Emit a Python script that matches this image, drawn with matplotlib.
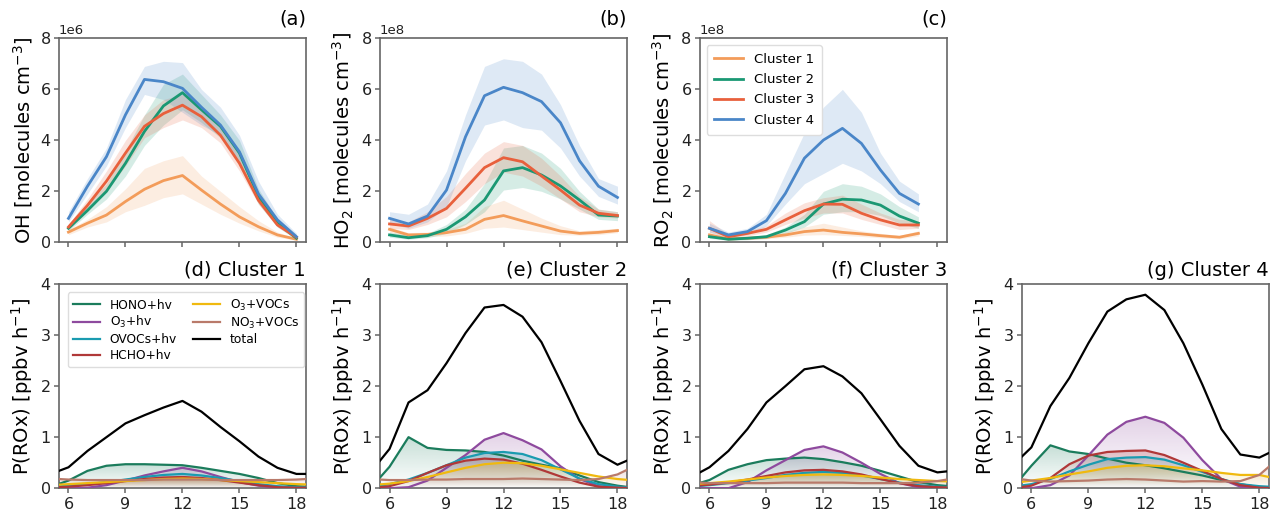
import numpy as np
import matplotlib
matplotlib.use("Agg")
import matplotlib.pyplot as plt
import matplotlib.colors as mcolors

# ---------------- data ----------------
hours_top = [6, 7, 8, 9, 10, 11, 12, 13, 14, 15, 16, 17, 18]
hours_ro2 = [6, 7, 8, 9, 10, 11, 12, 13, 14, 15, 16, 17]
hours_bot = [5, 6, 7, 8, 9, 10, 11, 12, 13, 14, 15, 16, 17, 18, 19]

cluster_names = ["Cluster 1", "Cluster 2", "Cluster 3", "Cluster 4"]

# OH (x1e6): mean, lower, upper
oh_c1 = [0.40, 0.75, 1.07, 1.60, 2.08, 2.42, 2.62, 2.05, 1.50, 1.00, 0.61, 0.29, 0.12]
oh_c1_lo = [0.30, 0.60, 0.80, 1.20, 1.45, 1.75, 1.90, 1.50, 1.10, 0.75, 0.45, 0.20, 0.08]
oh_c1_hi = [0.50, 0.90, 1.40, 2.10, 2.90, 3.20, 3.40, 2.60, 2.00, 1.40, 0.85, 0.40, 0.15]
oh_c2 = [0.55, 1.25, 2.00, 3.10, 4.35, 5.35, 5.87, 5.20, 4.55, 3.50, 1.80, 0.75, 0.16]
oh_c2_lo = [0.45, 1.10, 1.70, 2.60, 3.80, 4.60, 5.20, 4.70, 4.10, 3.10, 1.50, 0.60, 0.10]
oh_c2_hi = [0.70, 1.50, 2.30, 3.60, 5.00, 6.20, 6.60, 5.80, 5.00, 4.00, 2.10, 0.90, 0.25]
oh_c3 = [0.60, 1.45, 2.40, 3.50, 4.55, 5.05, 5.38, 4.93, 4.20, 3.10, 1.65, 0.68, 0.20]
oh_c3_lo = [0.50, 1.20, 2.00, 3.00, 4.10, 4.50, 4.80, 4.50, 3.90, 2.80, 1.50, 0.60, 0.15]
oh_c3_hi = [0.70, 1.70, 2.80, 4.00, 5.00, 5.60, 5.80, 5.30, 4.50, 3.40, 1.80, 0.80, 0.25]
oh_c4 = [0.94, 2.20, 3.36, 5.00, 6.39, 6.30, 6.04, 5.30, 4.60, 3.55, 1.90, 0.88, 0.22]
oh_c4_lo = [0.80, 1.90, 3.00, 4.50, 5.80, 5.60, 5.10, 4.60, 4.20, 3.20, 1.80, 0.70, 0.15]
oh_c4_hi = [1.20, 2.50, 3.70, 5.60, 6.90, 7.10, 7.05, 6.00, 5.30, 4.20, 2.40, 1.10, 0.35]

# HO2 (x1e8)
ho2_c1 = [0.51, 0.29, 0.31, 0.38, 0.51, 0.90, 1.05, 0.84, 0.64, 0.44, 0.35, 0.39, 0.46]
ho2_c1_lo = [0.40, 0.20, 0.22, 0.25, 0.35, 0.55, 0.60, 0.50, 0.40, 0.30, 0.28, 0.30, 0.38]
ho2_c1_hi = [0.60, 0.38, 0.40, 0.50, 0.75, 1.40, 1.65, 1.30, 0.95, 0.65, 0.45, 0.50, 0.55]
ho2_c2 = [0.29, 0.18, 0.26, 0.51, 1.00, 1.66, 2.80, 2.93, 2.64, 2.21, 1.66, 1.07, 1.03]
ho2_c2_lo = [0.20, 0.12, 0.18, 0.35, 0.70, 1.20, 2.05, 2.15, 2.00, 1.70, 1.30, 0.90, 0.85]
ho2_c2_hi = [0.40, 0.28, 0.35, 0.70, 1.30, 2.30, 3.70, 3.80, 3.50, 2.90, 2.00, 1.30, 1.20]
ho2_c3 = [0.72, 0.64, 0.94, 1.33, 2.12, 2.93, 3.32, 3.16, 2.60, 2.05, 1.46, 1.14, 1.05]
ho2_c3_lo = [0.55, 0.50, 0.70, 1.00, 1.60, 2.30, 2.75, 2.60, 2.20, 1.70, 1.20, 1.00, 0.95]
ho2_c3_hi = [0.90, 0.80, 1.20, 1.80, 2.70, 3.50, 3.95, 3.80, 3.30, 2.60, 1.80, 1.30, 1.20]
ho2_c4 = [0.94, 0.72, 1.03, 2.05, 4.14, 5.75, 6.08, 5.87, 5.52, 4.69, 3.20, 2.20, 1.76]
ho2_c4_lo = [0.75, 0.55, 0.80, 1.40, 3.20, 4.60, 4.80, 4.50, 4.40, 3.70, 2.60, 1.80, 1.50]
ho2_c4_hi = [1.20, 1.10, 1.50, 2.80, 5.00, 6.90, 7.20, 7.10, 6.60, 5.40, 3.80, 2.50, 2.20]

# RO2 (x1e8)
ro2_c1 = [0.29, 0.13, 0.16, 0.20, 0.29, 0.42, 0.48, 0.39, 0.33, 0.26, 0.20, 0.35]
ro2_c1_lo = [0.20, 0.09, 0.11, 0.14, 0.20, 0.28, 0.30, 0.27, 0.23, 0.18, 0.14, 0.25]
ro2_c1_hi = [0.40, 0.18, 0.20, 0.26, 0.40, 0.60, 0.75, 0.60, 0.45, 0.35, 0.27, 0.45]
ro2_c2 = [0.22, 0.12, 0.16, 0.22, 0.48, 0.81, 1.50, 1.69, 1.66, 1.46, 1.03, 0.75]
ro2_c2_lo = [0.15, 0.08, 0.10, 0.15, 0.35, 0.60, 1.10, 1.20, 1.20, 1.05, 0.75, 0.55]
ro2_c2_hi = [0.30, 0.18, 0.20, 0.30, 0.60, 1.10, 2.00, 2.30, 2.20, 1.90, 1.40, 1.00]
ro2_c3 = [0.55, 0.22, 0.35, 0.51, 0.88, 1.24, 1.50, 1.49, 1.14, 0.88, 0.68, 0.68]
ro2_c3_lo = [0.40, 0.15, 0.25, 0.40, 0.70, 0.95, 1.15, 1.15, 0.90, 0.70, 0.50, 0.55]
ro2_c3_hi = [0.85, 0.30, 0.45, 0.65, 1.15, 1.55, 1.75, 1.85, 1.50, 1.15, 0.90, 0.85]
ro2_c4 = [0.55, 0.29, 0.42, 0.85, 1.92, 3.30, 4.01, 4.47, 3.88, 2.84, 1.92, 1.50]
ro2_c4_lo = [0.40, 0.20, 0.30, 0.65, 1.50, 2.30, 2.70, 3.10, 2.80, 2.30, 1.60, 1.20]
ro2_c4_hi = [0.75, 0.40, 0.55, 1.10, 2.70, 4.30, 5.30, 6.00, 5.10, 3.50, 2.40, 1.90]

# P(ROx) pathways [ppbv h-1], hours 5..19
pathway_names = ["HONO+hv", "O$_3$+hv", "OVOCs+hv", "HCHO+hv", "O$_3$+VOCs", "NO$_3$+VOCs", "total"]

c1_hono = [0.02, 0.15, 0.34, 0.44, 0.47, 0.47, 0.46, 0.45, 0.40, 0.34, 0.28, 0.20, 0.10, 0.04, 0.02]
c1_o3hv = [0.00, 0.00, 0.01, 0.06, 0.15, 0.25, 0.33, 0.40, 0.33, 0.22, 0.12, 0.05, 0.01, 0.00, 0.00]
c1_ovoc = [0.02, 0.05, 0.08, 0.12, 0.17, 0.22, 0.26, 0.28, 0.25, 0.20, 0.14, 0.08, 0.04, 0.02, 0.01]
c1_hcho = [0.01, 0.03, 0.06, 0.10, 0.14, 0.18, 0.21, 0.22, 0.20, 0.16, 0.11, 0.06, 0.02, 0.01, 0.01]
c1_o3voc = [0.06, 0.08, 0.10, 0.12, 0.14, 0.16, 0.18, 0.19, 0.18, 0.16, 0.14, 0.12, 0.10, 0.08, 0.07]
c1_no3voc = [0.19, 0.17, 0.16, 0.16, 0.16, 0.16, 0.17, 0.17, 0.17, 0.16, 0.16, 0.16, 0.16, 0.17, 0.19]
c1_total = [0.27, 0.41, 0.73, 1.00, 1.27, 1.43, 1.58, 1.71, 1.50, 1.20, 0.92, 0.62, 0.40, 0.28, 0.28]

c2_hono = [0.00, 0.42, 1.00, 0.79, 0.75, 0.74, 0.71, 0.64, 0.54, 0.46, 0.39, 0.25, 0.12, 0.05, 0.00]
c2_o3hv = [0.00, 0.00, 0.02, 0.15, 0.40, 0.65, 0.95, 1.08, 0.94, 0.76, 0.43, 0.18, 0.04, 0.00, 0.00]
c2_ovoc = [0.02, 0.08, 0.17, 0.30, 0.45, 0.60, 0.69, 0.71, 0.67, 0.55, 0.37, 0.19, 0.08, 0.03, 0.01]
c2_hcho = [0.00, 0.04, 0.14, 0.30, 0.45, 0.54, 0.58, 0.56, 0.48, 0.36, 0.23, 0.11, 0.03, 0.01, 0.00]
c2_o3voc = [0.06, 0.09, 0.14, 0.22, 0.31, 0.40, 0.47, 0.50, 0.49, 0.44, 0.37, 0.30, 0.23, 0.18, 0.15]
c2_no3voc = [0.18, 0.16, 0.16, 0.17, 0.17, 0.18, 0.18, 0.18, 0.19, 0.18, 0.17, 0.16, 0.18, 0.27, 0.45]
c2_total = [0.31, 0.77, 1.68, 1.92, 2.45, 3.04, 3.54, 3.59, 3.36, 2.86, 2.10, 1.32, 0.67, 0.46, 0.62]

c3_hono = [0.05, 0.16, 0.36, 0.47, 0.55, 0.58, 0.60, 0.57, 0.51, 0.44, 0.34, 0.23, 0.12, 0.06, 0.03]
c3_o3hv = [0.00, 0.00, 0.00, 0.12, 0.35, 0.55, 0.75, 0.82, 0.70, 0.50, 0.28, 0.10, 0.02, 0.00, 0.00]
c3_ovoc = [0.03, 0.06, 0.10, 0.15, 0.20, 0.26, 0.30, 0.32, 0.30, 0.25, 0.18, 0.11, 0.06, 0.03, 0.02]
c3_hcho = [0.04, 0.07, 0.11, 0.17, 0.24, 0.31, 0.35, 0.36, 0.33, 0.27, 0.18, 0.10, 0.04, 0.02, 0.01]
c3_o3voc = [0.08, 0.10, 0.13, 0.17, 0.21, 0.24, 0.26, 0.27, 0.26, 0.24, 0.21, 0.18, 0.16, 0.14, 0.13]
c3_no3voc = [0.12, 0.10, 0.10, 0.10, 0.10, 0.11, 0.11, 0.11, 0.11, 0.10, 0.10, 0.10, 0.11, 0.14, 0.20]
c3_total = [0.21, 0.41, 0.73, 1.16, 1.68, 2.00, 2.33, 2.39, 2.19, 1.86, 1.35, 0.83, 0.44, 0.31, 0.35]

c4_hono = [0.00, 0.44, 0.84, 0.72, 0.67, 0.58, 0.50, 0.45, 0.39, 0.32, 0.25, 0.16, 0.08, 0.02, 0.00]
c4_o3hv = [0.00, 0.00, 0.06, 0.25, 0.64, 1.05, 1.30, 1.40, 1.28, 0.99, 0.55, 0.18, 0.03, 0.00, 0.00]
c4_ovoc = [0.03, 0.08, 0.18, 0.33, 0.46, 0.57, 0.60, 0.61, 0.56, 0.45, 0.32, 0.18, 0.08, 0.04, 0.02]
c4_hcho = [0.00, 0.05, 0.20, 0.47, 0.64, 0.71, 0.73, 0.74, 0.65, 0.50, 0.34, 0.18, 0.06, 0.01, 0.00]
c4_o3voc = [0.10, 0.15, 0.20, 0.27, 0.33, 0.40, 0.44, 0.45, 0.43, 0.39, 0.35, 0.30, 0.26, 0.26, 0.18]
c4_no3voc = [0.20, 0.15, 0.13, 0.14, 0.15, 0.17, 0.18, 0.17, 0.15, 0.13, 0.14, 0.13, 0.14, 0.26, 0.58]
c4_total = [0.44, 0.80, 1.61, 2.16, 2.84, 3.46, 3.70, 3.79, 3.49, 2.84, 2.03, 1.16, 0.66, 0.60, 0.78]

x_ticks = [6, 9, 12, 15, 18]

# ---------------- style ----------------
cluster_colors = ["#f39c5a", "#1a9873", "#e8603c", "#4a86c8"]
path_colors = ["#1b7c5c", "#8e4a9e", "#1a9bb0", "#b03838", "#f0b90f", "#b97a6a", "black"]
spine_col = "#666666"

plt.rcParams["font.family"] = "DejaVu Sans"
plt.rcParams["axes.edgecolor"] = spine_col
plt.rcParams["xtick.color"] = spine_col
plt.rcParams["ytick.color"] = spine_col
plt.rcParams["xtick.labelcolor"] = "#222222"
plt.rcParams["ytick.labelcolor"] = "#222222"

fig = plt.figure(figsize=(12.71, 5.15), dpi=100)

lefts = [0.0464, 0.299, 0.5507, 0.804]
W = 0.1943
top_b, top_h = 0.5295, 0.396
bot_b, bot_h = 0.0520, 0.3965


def style_ax(ax):
    for s in ax.spines.values():
        s.set_linewidth(1.2)
        s.set_color(spine_col)
    ax.tick_params(labelsize=11.5, width=1.1, length=3.5, pad=2.5)
    ax.set_xlim(5.5, 18.5)
    ax.set_xticks(x_ticks)


# ---------------- top row ----------------
top_sets = [
    ([oh_c1, oh_c2, oh_c3, oh_c4], [oh_c1_lo, oh_c2_lo, oh_c3_lo, oh_c4_lo],
     [oh_c1_hi, oh_c2_hi, oh_c3_hi, oh_c4_hi], hours_top, 1e6,
     r"OH [molecules cm$^{-3}$]", "(a)"),
    ([ho2_c1, ho2_c2, ho2_c3, ho2_c4], [ho2_c1_lo, ho2_c2_lo, ho2_c3_lo, ho2_c4_lo],
     [ho2_c1_hi, ho2_c2_hi, ho2_c3_hi, ho2_c4_hi], hours_top, 1e8,
     r"HO$_2$ [molecules cm$^{-3}$]", "(b)"),
    ([ro2_c1, ro2_c2, ro2_c3, ro2_c4], [ro2_c1_lo, ro2_c2_lo, ro2_c3_lo, ro2_c4_lo],
     [ro2_c1_hi, ro2_c2_hi, ro2_c3_hi, ro2_c4_hi], hours_ro2, 1e8,
     r"RO$_2$ [molecules cm$^{-3}$]", "(c)"),
]

for i, (means, los, his, hrs, scale, ylab, tag) in enumerate(top_sets):
    ax = fig.add_axes([lefts[i], top_b, W, top_h])
    x = np.array(hrs)
    for k in range(4):
        m = np.array(means[k]) * scale
        lo = np.array(los[k]) * scale
        hi = np.array(his[k]) * scale
        ax.fill_between(x, lo, hi, color=cluster_colors[k], alpha=0.18, linewidth=0)
        ax.plot(x, m, color=cluster_colors[k], lw=2.0, label=cluster_names[k])
    style_ax(ax)
    ax.set_ylim(0, 8 * scale)
    ax.set_yticks(np.arange(0, 9, 2) * scale)
    ax.tick_params(axis="x", labelbottom=False)
    ax.yaxis.get_offset_text().set_fontsize(9.5)
    ax.set_ylabel(ylab, fontsize=14, labelpad=4)
    ax.set_title(tag, loc="right", fontsize=14, pad=10)
    if i == 2:
        ax.legend(loc="upper left", fontsize=9.5, frameon=True, framealpha=1.0,
                  edgecolor="#dddddd", borderpad=0.6, handlelength=2.2,
                  labelspacing=0.55, bbox_to_anchor=(0.0, 1.0))


# ---------------- bottom row ----------------
def gradient_fill(ax, x, y, color, alpha=0.22, z=1):
    coll = ax.fill_between(x, 0, y, facecolor="none", edgecolor="none")
    path = coll.get_paths()[0]
    ymax = max(float(np.max(y)), 1e-3)
    rgb = mcolors.to_rgb(color)
    img = np.zeros((200, 1, 4))
    img[:, :, 0], img[:, :, 1], img[:, :, 2] = rgb
    img[:, 0, 3] = np.linspace(0.0, alpha, 200)
    im = ax.imshow(img, aspect="auto", origin="lower",
                   extent=[x.min(), x.max(), 0, ymax], zorder=z,
                   interpolation="bilinear")
    im.set_clip_path(path, transform=ax.transData)


clusters_bot = [
    [c1_hono, c1_o3hv, c1_ovoc, c1_hcho, c1_o3voc, c1_no3voc, c1_total],
    [c2_hono, c2_o3hv, c2_ovoc, c2_hcho, c2_o3voc, c2_no3voc, c2_total],
    [c3_hono, c3_o3hv, c3_ovoc, c3_hcho, c3_o3voc, c3_no3voc, c3_total],
    [c4_hono, c4_o3hv, c4_ovoc, c4_hcho, c4_o3voc, c4_no3voc, c4_total],
]
bot_titles = ["(d) Cluster 1", "(e) Cluster 2", "(f) Cluster 3", "(g) Cluster 4"]

xb = np.array(hours_bot, dtype=float)
for i, series in enumerate(clusters_bot):
    ax = fig.add_axes([lefts[i], bot_b, W, bot_h])
    handles = []
    for k, vals in enumerate(series):
        y = np.array(vals)
        if k < 6:
            gradient_fill(ax, xb, y, path_colors[k], alpha=0.25, z=1)
        ln, = ax.plot(xb, y, color=path_colors[k], lw=1.6, zorder=3,
                      label=pathway_names[k])
        handles.append(ln)
    style_ax(ax)
    ax.set_ylim(0, 4)
    ax.set_yticks([0, 1, 2, 3, 4])
    ax.set_xlim(5.5, 18.5)
    ax.set_ylabel(r"P(ROx) [ppbv h$^{-1}$]", fontsize=14, labelpad=4)
    ax.set_title(bot_titles[i], loc="right", fontsize=14, pad=6)
    if i == 0:
        ax.legend(handles, pathway_names,
                  ncol=2, loc="upper left", fontsize=8.8, frameon=True,
                  framealpha=1.0, edgecolor="#dddddd", borderpad=0.45,
                  handlelength=2.2, labelspacing=0.22, columnspacing=1.3,
                  bbox_to_anchor=(0.01, 0.99))

fig.savefig("out.png", dpi=100)
